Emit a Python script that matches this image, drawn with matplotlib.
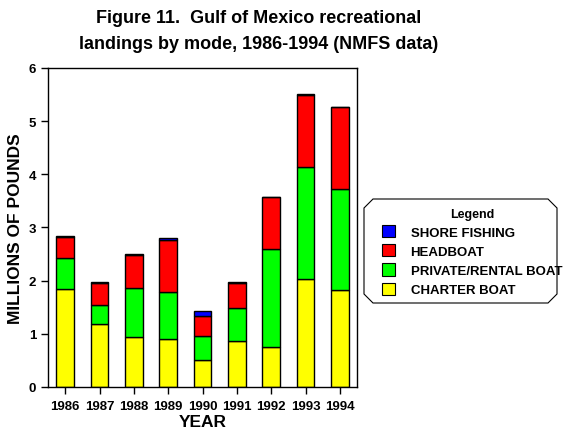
import numpy as np
import matplotlib.pyplot as plt
from matplotlib.patches import Polygon, Patch

plt.rcParams['font.family'] = ['Liberation Sans', 'DejaVu Sans']
plt.rcParams['font.weight'] = 'bold'

# ==========================
# DATA (millions of pounds)
# ==========================
years = ["1986", "1987", "1988", "1989", "1990", "1991", "1992", "1993", "1994"]
charter = [1.84, 1.18, 0.94, 0.90, 0.51, 0.86, 0.75, 2.03, 1.82]
private = [0.58, 0.36, 0.93, 0.88, 0.44, 0.62, 1.85, 2.10, 1.91]
headboat = [0.40, 0.42, 0.62, 0.99, 0.38, 0.48, 0.98, 1.37, 1.53]
shore = [0.01, 0.01, 0.015, 0.03, 0.10, 0.01, 0.00, 0.015, 0.00]

series = [("CHARTER BOAT", charter, "#FFFF00"),
          ("PRIVATE/RENTAL BOAT", private, "#00FF00"),
          ("HEADBOAT", headboat, "#FF0000"),
          ("SHORE FISHING", shore, "#0000FF")]

# ==========================
# PLOT
# ==========================
fig = plt.figure(figsize=(5.65, 4.31), dpi=100)
ax = fig.add_axes([0.085, 0.0998, 0.547, 0.7403])

x = np.arange(len(years))
bottom = np.zeros(len(years))
for name, vals, col in series:
    ax.bar(x, vals, width=0.51, bottom=bottom, color=col,
           edgecolor="black", linewidth=1.0)
    bottom += np.array(vals)

ax.set_xlim(-0.5, len(years) - 0.5)
ax.set_ylim(0, 6)
ax.set_xticks(x)
ax.set_xticklabels(years)
ax.set_yticks(range(0, 7))
ax.tick_params(axis="both", direction="out", length=5, width=1.0,
               labelsize=9.5)
ax.tick_params(axis="x", pad=4.5)
for lab in ax.get_xticklabels() + ax.get_yticklabels():
    lab.set_fontweight("bold")
for spine in ax.spines.values():
    spine.set_linewidth(1.0)

ax.set_xlabel("YEAR", fontsize=12.5, fontweight="bold", labelpad=1)
ax.set_ylabel("MILLIONS OF POUNDS", fontsize=12.5, fontweight="bold", labelpad=4)

fig.text(0.458, 0.927, "Figure 11.  Gulf of Mexico recreational\nlandings by mode, 1986-1994 (NMFS data)",
         ha="center", va="center", fontsize=13, fontweight="bold", linespacing=1.75)

# ==========================
# LEGEND (chamfered box)
# ==========================
W, H = 565.0, 431.0
l, r, t, b, c = 364, 557, 200, 304, 9
pts = [(l + c, t), (r - c, t), (r, t + c), (r, b - c), (r - c, b),
       (l + c, b), (l, b - c), (l, t + c)]
box = Polygon([(px / W, 1 - py / H) for px, py in pts], closed=True,
              transform=fig.transFigure, facecolor="white",
              edgecolor="black", linewidth=0.8)
fig.patches.append(box)

handles = [Patch(facecolor=col, edgecolor="black", linewidth=0.8, label=name)
           for name, vals, col in reversed(series)]
leg = fig.legend(handles=handles, loc="upper left",
                 bbox_to_anchor=(371 / W, 1 - 198 / H), frameon=False,
                 title="Legend", fontsize=9.5, title_fontproperties={"weight": "bold", "size": 9},
                 handlelength=1.05, handleheight=1.05, handletextpad=1.15,
                 labelspacing=0.42, borderpad=0.3)
for txt in leg.get_texts():
    txt.set_fontweight("bold")

fig.savefig("out.png", dpi=100)
